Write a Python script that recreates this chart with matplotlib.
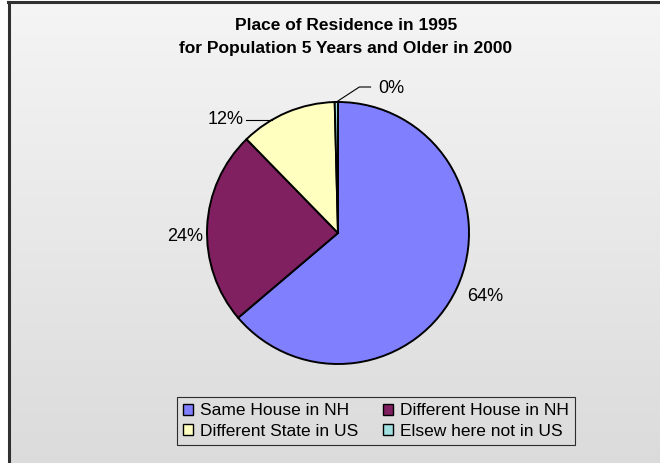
import numpy as np
import matplotlib
matplotlib.use("Agg")
import matplotlib.pyplot as plt

plt.rcParams['font.family'] = ['Liberation Sans', 'DejaVu Sans']

categories = ["Same House in NH", "Different House in NH",
              "Different State in US", "Elsew here not in US"]
values = [63.8, 23.9, 11.9, 0.4]
pct_labels = ["64%", "24%", "12%", "0%"]
colors = ["#8080FF", "#802060", "#FFFFC0", "#A0E0E0"]
title = "Place of Residence in 1995\nfor Population 5 Years and Older in 2000"

W, H = 660, 463
fig = plt.figure(figsize=(W / 100, H / 100), dpi=100)

# background gradient
bg = fig.add_axes([0, 0, 1, 1])
bg.set_xlim(0, W)
bg.set_ylim(0, H)
bg.axis('off')
grad = np.linspace(0.96, 0.86, 256).reshape(-1, 1)
bg.imshow(np.dstack([grad, grad, grad]), extent=[8, W, 0, H - 1],
          aspect='auto', origin='upper', zorder=0)
bg.plot([8.5, 8.5], [0, H - 1.5], color='#303030', lw=2.2, zorder=1)
bg.plot([8, W], [H - 1.5, H - 1.5], color='#303030', lw=2.2, zorder=1)

ax = fig.add_axes([0, 0, 1, 1])
ax.patch.set_alpha(0)

cx, cy, R = 338, H - 233, 131
wedges, _ = ax.pie(values, colors=colors, startangle=90, counterclock=False,
                   center=(cx, cy), radius=R, frame=True,
                   wedgeprops=dict(edgecolor='black', linewidth=1.4))
ax.set_xlim(0, W)
ax.set_ylim(0, H)
ax.set_aspect('auto')
ax.axis('off')

# label placement (angle offsets and radial factors)
label_r = [1.22, 1.17, 1.22, 1.18]
label_ang_shift = [1.5, 4.0, 22.0, -21.0]
for i, w in enumerate(wedges):
    mid = (w.theta1 + w.theta2) / 2.0
    a = np.deg2rad(mid + label_ang_shift[i])
    tx = cx + label_r[i] * R * np.cos(a)
    ty = cy + label_r[i] * R * np.sin(a)
    ax.text(tx, ty, pct_labels[i], ha='center', va='center', fontsize=13,
            color='black')
    if i == 2:
        ey = ty
        ex = cx - np.sqrt(R ** 2 - (ey - cy) ** 2)
        ax.plot([tx + 21, ex], [ty, ey], color='black', lw=0.8)
    if i == 3:
        ma = np.deg2rad(mid)
        ex, ey = cx + R * np.cos(ma), cy + R * np.sin(ma)
        ax.plot([ex, ex + 23, tx - 21], [ey, ty + 1, ty + 1], color='black', lw=0.8)

fig.text(346 / W, 1 - 37 / H, title, ha='center', va='center',
         fontsize=12.5, fontweight='bold', linespacing=1.6)

order = [0, 2, 1, 3]
leg = fig.legend([wedges[i] for i in order], [categories[i] for i in order],
                 loc='center', ncol=2,
                 bbox_to_anchor=(376 / W, 1 - 421 / H), fontsize=12.5,
                 frameon=True, fancybox=False, edgecolor='black',
                 handlelength=0.6, handleheight=0.6, handletextpad=0.4,
                 columnspacing=1.4, labelspacing=0.3, borderpad=0.35)
leg.get_frame().set_facecolor('none')
leg.get_frame().set_linewidth(0.8)
for h in leg.legend_handles:
    h.set_linewidth(1.0)

fig.savefig("out.png", dpi=100)
